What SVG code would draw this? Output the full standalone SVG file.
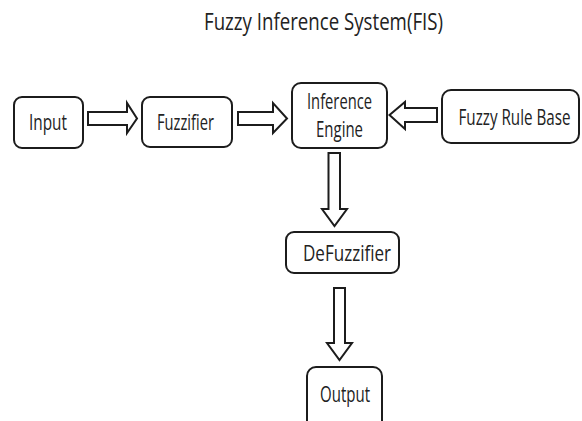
<svg xmlns="http://www.w3.org/2000/svg" width="582" height="421" viewBox="0 0 582 421">
  <style>
    .box { fill: #ffffff; stroke: #1c1c1c; stroke-width: 2; }
    .arrow { fill: #ffffff; stroke: #1c1c1c; stroke-width: 2; stroke-linejoin: miter; }
    .label { font-family: "Open Sans", "Liberation Sans", sans-serif; font-size: 21px; fill: #222222; text-anchor: middle; }
    .title { font-family: "Open Sans", "Liberation Sans", sans-serif; font-size: 23px; fill: #222222; text-anchor: middle; }
  </style>
  <rect x="0" y="0" width="582" height="421" fill="#ffffff"/>

  <text class="title" x="323.5" y="29.5" textLength="239" lengthAdjust="spacingAndGlyphs">Fuzzy Inference System(FIS)</text>

  <!-- block arrows between stages -->
  <g id="connectors">
    <polygon class="arrow" points="88,112 127,112 127,103 137,118.5 127,133 127,125 88,125"/>
    <polygon class="arrow" points="238,112 273,112 273,103 287,118.5 273,133 273,125 238,125"/>
    <polygon class="arrow" points="437,108 405,108 405,102 389.5,115 405,129 405,122 437,122"/>
    <polygon class="arrow" points="328.5,153 340,153 340,209 347,209 334.5,226 322,209 328.5,209"/>
    <polygon class="arrow" points="334,288 345,288 345,343 352,343 339.5,360 327,343 334,343"/>
  </g>

  <g id="input">
    <rect class="box" x="14" y="97" width="69" height="51" rx="8"/>
    <text class="label" x="48" y="130" textLength="38" lengthAdjust="spacingAndGlyphs">Input</text>
  </g>

  <g id="fuzzifier">
    <rect class="box" x="142" y="97" width="90" height="50" rx="8"/>
    <text class="label" x="185.5" y="130" textLength="57" lengthAdjust="spacingAndGlyphs">Fuzzifier</text>
  </g>

  <g id="inference-engine">
    <rect class="box" x="292" y="83" width="95" height="65" rx="9"/>
    <text class="label" x="339.5" y="109" textLength="65" lengthAdjust="spacingAndGlyphs">Inference</text>
    <text class="label" x="339.5" y="137" textLength="47" lengthAdjust="spacingAndGlyphs">Engine</text>
  </g>

  <g id="fuzzy-rule-base">
    <rect class="box" x="442" y="90" width="137" height="53" rx="9"/>
    <text class="label" x="514.5" y="125" textLength="112" lengthAdjust="spacingAndGlyphs">Fuzzy Rule Base</text>
  </g>

  <g id="defuzzifier">
    <rect class="box" x="286" y="232" width="113" height="41" rx="8"/>
    <text class="label" x="347" y="261" textLength="88" lengthAdjust="spacingAndGlyphs">DeFuzzifier</text>
  </g>

  <g id="output">
    <rect class="box" x="307" y="367" width="75" height="70" rx="9"/>
    <text class="label" x="345" y="402" textLength="50" lengthAdjust="spacingAndGlyphs">Output</text>
  </g>
</svg>
